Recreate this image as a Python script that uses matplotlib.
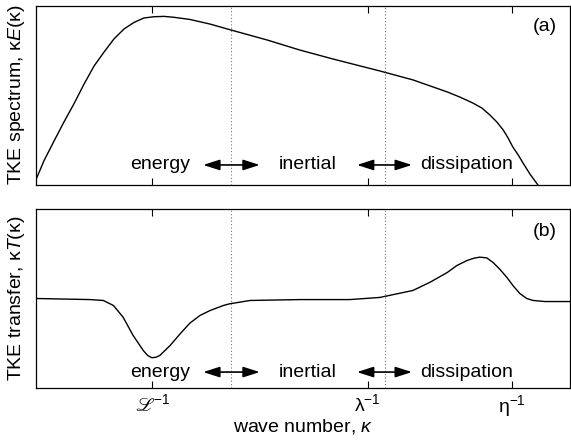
"""TKE spectrum / transfer sketch over log wave number."""
import matplotlib

matplotlib.use("Agg")
import matplotlib.pyplot as plt

plt.rcParams["font.family"] = ["Liberation Sans", "DejaVu Sans"]
plt.rcParams["mathtext.fontset"] = "custom"
plt.rcParams["mathtext.rm"] = "Liberation Sans"
plt.rcParams["mathtext.it"] = "Liberation Sans:italic"
plt.rcParams["mathtext.fallback"] = "stix"

# log wave number (arbitrary units, 0..10) and curve values
spec_k = [0.0, 0.15, 0.34, 0.52, 0.71, 0.90, 1.09, 1.27, 1.46, 1.65, 1.84,
          2.02, 2.21, 2.40, 2.58, 2.88, 3.26, 3.65, 4.33, 4.94, 5.56, 6.44,
          7.06, 7.70, 7.94, 8.18, 8.35, 8.50, 8.63, 8.75, 8.84, 8.93, 9.03,
          9.12, 9.25, 9.40]
spec_E = [0.03, 0.136, 0.247, 0.350, 0.453, 0.564, 0.666, 0.741, 0.816, 0.872,
          0.909, 0.933, 0.940, 0.942, 0.937, 0.925, 0.899, 0.866, 0.810, 0.754,
          0.704, 0.637, 0.587, 0.520, 0.491, 0.458, 0.430, 0.391, 0.352, 0.307,
          0.263, 0.212, 0.168, 0.123, 0.061, 0.0]

trans_k = [0.0, 1.01, 1.26, 1.45, 1.63, 1.82, 2.01, 2.09, 2.17, 2.25, 2.32,
           2.51, 2.70, 2.88, 3.07, 3.26, 3.51, 3.62, 4.01, 4.94, 5.88, 6.44,
           7.06, 7.38, 7.70, 7.88, 8.07, 8.20, 8.31, 8.44, 8.56, 8.69, 8.82,
           8.93, 9.06, 9.19, 9.31, 9.53, 10.0]
trans_T = [0.0, -0.006, -0.011, -0.039, -0.104, -0.207, -0.291, -0.318, -0.331,
           -0.328, -0.318, -0.263, -0.197, -0.138, -0.095, -0.067, -0.039,
           -0.030, -0.011, -0.006, -0.006, 0.006, 0.045, 0.091, 0.145, 0.184,
           0.212, 0.225, 0.231, 0.227, 0.201, 0.162, 0.117, 0.073, 0.028, 0.0,
           -0.011, -0.017, -0.017]

tick_pos = [2.18, 6.21, 8.91]
tick_labels = ["$ℒ^{-1}$", r"$\mathrm{\lambda}^{-1}$", r"$\mathrm{\eta}^{-1}$"]
region_bounds = [3.65, 6.53]
region_names = ["energy", "inertial", "dissipation"]
region_x = [2.32, 5.09, 8.07]
arrow_spans = [(3.13, 4.19), (6.01, 7.04)]

W, H = 571, 440
fig = plt.figure(figsize=(W / 100, H / 100), dpi=100)
ax_a = fig.add_axes([36 / W, 1 - 185 / H, 534 / W, 179 / H])
ax_b = fig.add_axes([36 / W, 1 - 388 / H, 534 / W, 179 / H])

ax_a.plot(spec_k, spec_E, color="black", lw=1.0)
ax_a.set_ylim(0, 1)
ax_b.plot(trans_k, trans_T, color="black", lw=1.0)
ax_b.set_ylim(-0.5, 0.5)

for ax, ty, tag, tagy in [(ax_a, 0.112, "(a)", 0.883), (ax_b, 0.089, "(b)", 0.872)]:
    ax.set_xlim(0, 10)
    ax.set_xticks(tick_pos)
    ax.set_yticks([])
    ax.tick_params(axis="x", direction="in", length=5, top=True, width=0.8)
    for s in ax.spines.values():
        s.set_linewidth(0.9)
    for xb in region_bounds:
        ax.axvline(xb, color="0.45", lw=0.8, ls=(0, (1, 2)))
    for name, xc in zip(region_names, region_x):
        ax.text(xc, ty, name, transform=ax.get_xaxis_transform(),
                ha="center", va="center", fontsize=14)
    for x0, x1 in arrow_spans:
        ax.annotate("", xy=(x1, ty), xytext=(x0, ty),
                    xycoords=ax.get_xaxis_transform(),
                    arrowprops=dict(arrowstyle="<|-|>,head_length=0.5,head_width=0.16",
                                    mutation_scale=20, color="black", lw=1.2,
                                    shrinkA=0, shrinkB=0))
    ax.text(0.953, tagy, tag, transform=ax.transAxes, ha="center", va="center",
            fontsize=14)

ax_a.set_xticklabels([])
ax_b.set_xticklabels(tick_labels, fontsize=14)
ax_b.tick_params(axis="x", pad=4)

fig.text(17 / W, 1 - 95 / H, r"TKE spectrum, κ$\mathit{E}$(κ)", rotation=90,
         ha="center", va="center", fontsize=14)
fig.text(17 / W, 1 - 298 / H, r"TKE transfer, κ$\mathit{T}$(κ)", rotation=90,
         ha="center", va="center", fontsize=14)
fig.text(303 / W, 1 - 426 / H, r"wave number, $\kappa$", ha="center",
         va="center", fontsize=14)

fig.savefig("out.png", dpi=100)
